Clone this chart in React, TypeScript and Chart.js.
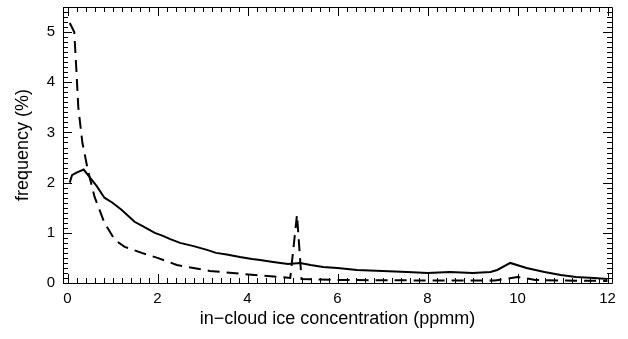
import React, { useEffect, useRef } from "react";
import { Chart, registerables } from "chart.js";

Chart.register(...registerables);

// ---- data ----
const solidX = [0.05, 0.1, 0.2, 0.36, 0.5, 0.65, 0.82, 1.0, 1.2, 1.49, 1.7, 1.94, 2.12, 2.27, 2.5, 2.78, 3.1, 3.3, 3.54, 3.83, 4.1, 4.28, 4.57, 4.9, 5.17, 5.4, 5.68, 6.0, 6.43, 7.0, 7.55, 8.0, 8.5, 9.0, 9.4, 9.55, 9.84, 10.2, 10.6, 10.96, 11.3, 11.7, 12.0];
const solidY = [2.0, 2.15, 2.2, 2.26, 2.1, 1.93, 1.7, 1.6, 1.46, 1.22, 1.12, 1.0, 0.94, 0.88, 0.8, 0.74, 0.66, 0.6, 0.57, 0.52, 0.48, 0.46, 0.42, 0.38, 0.4, 0.36, 0.32, 0.3, 0.26, 0.24, 0.22, 0.2, 0.22, 0.2, 0.22, 0.26, 0.4, 0.3, 0.22, 0.16, 0.12, 0.1, 0.08];

const dashedX = [0.05, 0.15, 0.2, 0.24, 0.33, 0.45, 0.6, 0.82, 1.05, 1.27, 1.65, 2.0, 2.43, 3.16, 3.9, 4.72, 4.95, 5.1, 5.2, 6.0, 8.0, 9.5, 10.0, 10.4, 11.0, 12.0];
const dashedY = [5.18, 5.0, 4.2, 3.5, 2.8, 2.26, 1.72, 1.2, 0.86, 0.72, 0.6, 0.5, 0.36, 0.24, 0.18, 0.12, 0.1, 1.36, 0.08, 0.06, 0.05, 0.05, 0.12, 0.06, 0.05, 0.04];

const xMajorTicks = [0, 2, 4, 6, 8, 10, 12];
const yMajorTicks = [0, 1, 2, 3, 4, 5];
const xMinorStep = 0.2;
const yMinorStep = 0.1;
const xRange = [-0.1, 12.1];
const yRange = [0, 5.5];

const xTitle = "in\u2212cloud ice concentration (ppmm)";
const yTitle = "frequency (%)";

const FONT = "'Liberation Sans', Arial, Helvetica, sans-serif";

const frameTicks = {
  id: "frameTicks",
  afterDraw(chart: any) {
    const { ctx, chartArea, scales } = chart;
    const { left, right, top, bottom } = chartArea;
    const xs = scales.x;
    const ys = scales.y;
    ctx.save();
    ctx.strokeStyle = "#000";
    ctx.lineWidth = 1;
    ctx.beginPath();
    ctx.rect(Math.round(left) + 0.5, Math.round(top) + 0.5, Math.round(right - left), Math.round(bottom - top));
    ctx.stroke();

    const isMajor = (v: number, majors: number[]) => majors.some((m) => Math.abs(m - v) < 1e-6);

    ctx.beginPath();
    const nx = Math.round((xRange[1] - 0) / xMinorStep);
    for (let i = 0; i <= nx; i++) {
      const v = i * xMinorStep;
      if (v > xRange[1]) break;
      const px = Math.round(xs.getPixelForValue(v)) + 0.5;
      const len = isMajor(v, xMajorTicks) ? 9 : 5;
      ctx.moveTo(px, bottom);
      ctx.lineTo(px, bottom - len);
      ctx.moveTo(px, top);
      ctx.lineTo(px, top + len);
    }
    const ny = Math.round((yRange[1] - yRange[0]) / yMinorStep);
    for (let i = 0; i <= ny; i++) {
      const v = yRange[0] + i * yMinorStep;
      const py = Math.round(ys.getPixelForValue(v)) + 0.5;
      const len = isMajor(v, yMajorTicks) ? 9 : 5;
      ctx.moveTo(left, py);
      ctx.lineTo(left + len, py);
      ctx.moveTo(right, py);
      ctx.lineTo(right - len, py);
    }
    ctx.stroke();
    ctx.restore();
  },
};

export default function App() {
  const ref = useRef<HTMLCanvasElement | null>(null);

  useEffect(() => {
    if (!ref.current) return;
    const solid = solidX.map((x, i) => ({ x, y: solidY[i] }));
    const dashed = dashedX.map((x, i) => ({ x, y: dashedY[i] }));
    const chart = new Chart(ref.current, {
      type: "line",
      data: {
        datasets: [
          {
            data: dashed,
            borderColor: "#000",
            borderWidth: 2,
            borderDash: [12, 7],
            pointRadius: 0,
            tension: 0,
            fill: false,
          },
          {
            data: solid,
            borderColor: "#000",
            borderWidth: 2,
            pointRadius: 0,
            tension: 0,
            fill: false,
          },
        ],
      },
      options: {
        animation: false,
        responsive: false,
        maintainAspectRatio: false,
        layout: { padding: { top: 7, right: 16, left: 0, bottom: 0 } },
        plugins: { legend: { display: false }, tooltip: { enabled: false } },
        scales: {
          x: {
            type: "linear",
            min: xRange[0],
            max: xRange[1],
            grid: { display: false, drawTicks: false },
            border: { display: false },
            afterBuildTicks: (s: any) => {
              s.ticks = xMajorTicks.map((v) => ({ value: v }));
            },
            afterFit: (s: any) => {
              s.height = 56;
              s.paddingLeft = 0;
              s.paddingRight = 0;
            },
            ticks: {
              autoSkip: false,
              maxRotation: 0,
              padding: 7,
              color: "#000",
              font: { family: FONT, size: 15 },
              callback: (v: any) => String(v),
            },
            title: {
              display: true,
              text: xTitle,
              color: "#000",
              font: { family: FONT, size: 18, lineHeight: 1.2 },
              padding: { top: 0, bottom: 9 },
            },
          },
          y: {
            type: "linear",
            min: yRange[0],
            max: yRange[1],
            grid: { display: false, drawTicks: false },
            border: { display: false },
            afterBuildTicks: (s: any) => {
              s.ticks = yMajorTicks.map((v) => ({ value: v }));
            },
            afterFit: (s: any) => {
              s.width = 63;
              s.paddingTop = 0;
              s.paddingBottom = 0;
            },
            ticks: {
              autoSkip: false,
              padding: 8,
              color: "#000",
              font: { family: FONT, size: 15 },
              callback: (v: any) => String(v),
            },
            title: {
              display: true,
              text: yTitle,
              color: "#000",
              font: { family: FONT, size: 18, lineHeight: 1.2 },
              padding: { top: 12, bottom: 0 },
            },
          },
        },
      },
      plugins: [frameTicks],
    });
    return () => chart.destroy();
  }, []);

  return (
    <div style={{ position: "fixed", left: 0, top: 0, width: 628, height: 339, background: "#fff" }}>
      <canvas ref={ref} width={628} height={339} style={{ width: 628, height: 339 }} />
    </div>
  );
}
